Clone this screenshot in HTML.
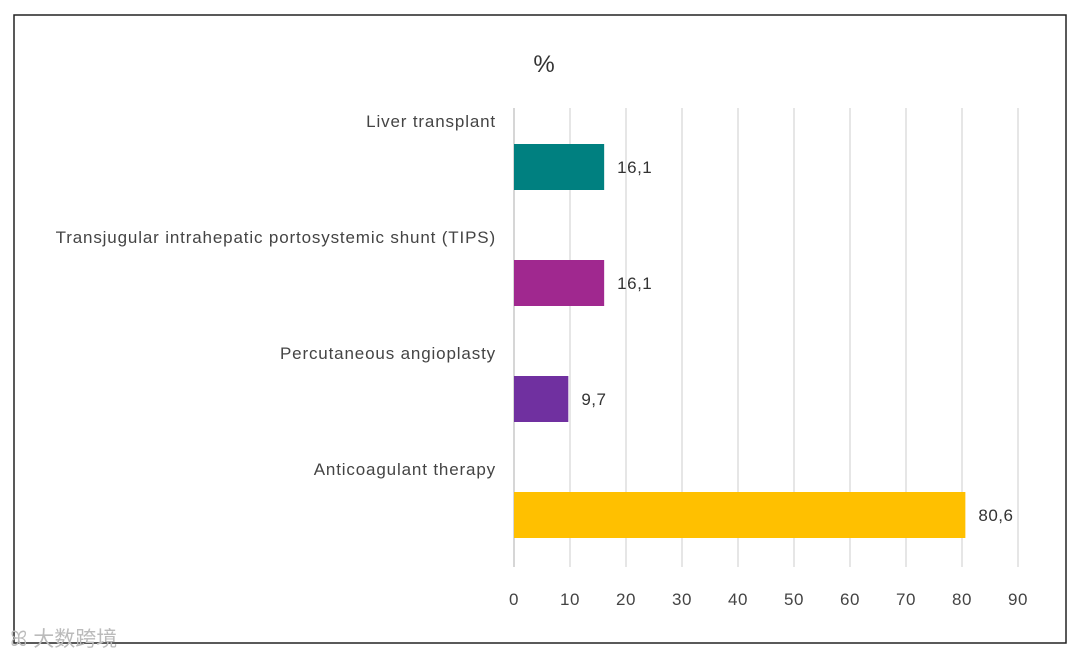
<!DOCTYPE html>
<html><head><meta charset="utf-8"><style>
body{margin:0;background:#fff;width:1080px;height:659px;overflow:hidden;font-family:"Liberation Sans","Noto Sans CJK SC",sans-serif;}
</style></head><body>
<svg id="c" width="1080" height="659" xmlns="http://www.w3.org/2000/svg">
<rect x="14" y="15" width="1052" height="628" fill="#fff" stroke="#222" stroke-width="1.5"/>
<text x="544" y="72" font-size="24" text-anchor="middle" fill="#333">%</text>
<g id="grid"></g><g id="bars"></g><g id="labels"></g>
<text x="10" y="646" font-size="21" fill="#bbb">ꕤ 大数跨境</text>
</svg>
<script>
const categories=["Liver transplant","Transjugular intrahepatic portosystemic shunt (TIPS)","Percutaneous angioplasty","Anticoagulant therapy"];
const values=[16.1,16.1,9.7,80.6];
const valueLabels=["16,1","16,1","9,7","80,6"];
const colors=["#008080","#A0288F","#7030A0","#FFC000"];
const ticks=[0,10,20,30,40,50,60,70,80,90];
const NS="http://www.w3.org/2000/svg";
const x=v=>514+v*5.6;
const bandTop=i=>144+i*116;
function mk(t,a,p){const e=document.createElementNS(NS,t);for(const k in a)e.setAttribute(k,a[k]);p.appendChild(e);return e;}
const g=document.getElementById('grid'),b=document.getElementById('bars'),l=document.getElementById('labels');
ticks.forEach(t=>{
 const ln=mk('line',{x1:x(t),x2:x(t),y1:108,y2:567,stroke:t===0?'#bfbfbf':'#d9d9d9','stroke-width':1.3},g);
 
 
 const tx=mk('text',{x:x(t),y:605,'font-size':17,'letter-spacing':0.5,'text-anchor':'middle',fill:'#444'},l);
 tx.textContent=t;
 
 
});
categories.forEach((c,i)=>{
 const y=bandTop(i);
 const r=mk('rect',{x:x(0),y:y,width:x(values[i])-x(0),height:46,fill:colors[i]},b);
 
 
 const ct=mk('text',{x:496,y:y-17,'font-size':17,'letter-spacing':0.85,'text-anchor':'end',fill:'#444'},l);
 ct.textContent=c;
 
 
 const vt=mk('text',{x:x(values[i])+13,y:y+29,'font-size':17,'letter-spacing':0.5,fill:'#333'},l);
 vt.textContent=valueLabels[i];
 
 
});
</script>
</body></html>
